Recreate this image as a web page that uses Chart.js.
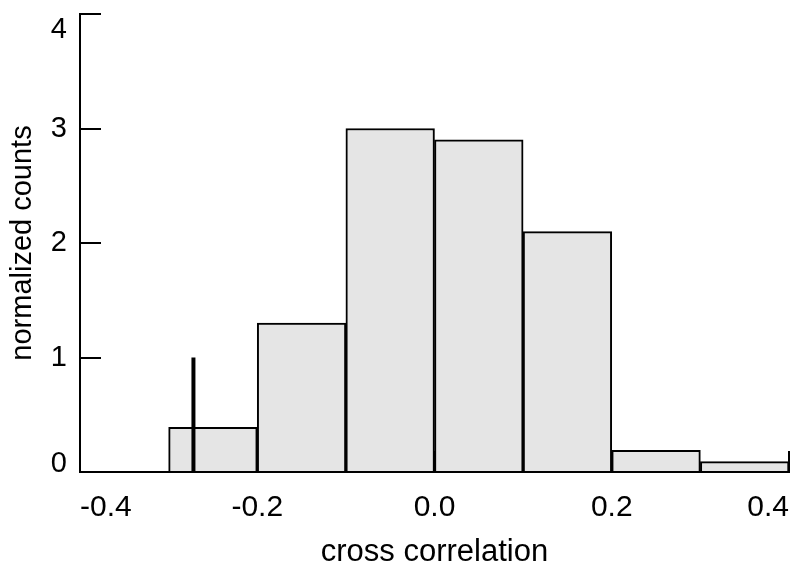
<!DOCTYPE html>
<html>
<head>
<meta charset="utf-8">
<script src="https://cdn.jsdelivr.net/npm/chart.js@4"></script>
<style>
  html, body { margin: 0; padding: 0; background: #ffffff; }
  #wrap { width: 796px; height: 571px; position: relative; }
</style>
</head>
<body>
<div id="wrap"><canvas id="c" width="796" height="571"></canvas></div>
<script>
// ---- data ----
const binCenters = [-0.25, -0.15, -0.05, 0.05, 0.15, 0.25, 0.35];
const normalizedCounts = [0.39, 1.30, 3.00, 2.90, 2.10, 0.19, 0.09];
const markerX = -0.272;
const markerHeight = 1.0;
const xTickValues = [-0.4, -0.2, 0.0, 0.2, 0.4];
const xTickLabels = ['-0.4', '-0.2', '0.0', '0.2', '0.4'];
const yTickValues = [0, 1, 2, 3, 4];
const yTickLabels = ['0', '1', '2', '3', '4'];
const xTitle = 'cross correlation';
const yTitle = 'normalized counts';

const FONT = '"Liberation Sans", Arial, Helvetica, sans-serif';

const histData = binCenters.map((x, i) => ({ x: x, y: normalizedCounts[i] }));
const markerData = [{ x: markerX, y: 0 }, { x: markerX, y: markerHeight }];

new Chart(document.getElementById('c'), {
  type: 'bar',
  data: {
    datasets: [
      {
        type: 'line',
        data: markerData,
        borderColor: '#000000',
        borderWidth: 4,
        borderCapStyle: 'butt',
        pointRadius: 0,
        fill: false,
        order: 0
      },
      {
        type: 'bar',
        data: histData,
        backgroundColor: '#e5e5e5',
        borderColor: '#000000',
        borderWidth: 2,
        barPercentage: 1.0,
        categoryPercentage: 1.0,
        order: 1
      }
    ]
  },
  options: {
    responsive: false,
    animation: false,
    devicePixelRatio: 1,
    layout: { padding: { top: 14, right: 7, left: 0, bottom: 0 } },
    plugins: { legend: { display: false }, tooltip: { enabled: false } },
    scales: {
      x: {
        type: 'linear',
        min: -0.4,
        max: 0.4,
        offset: false,
        z: 1,
        grid: {
          offset: false,
          drawOnChartArea: false,
          drawTicks: true,
          tickLength: -21,
          color: '#000000',
          lineWidth: 2
        },
        border: { display: true, color: '#000000', width: 2 },
        afterBuildTicks: (scale) => { scale.ticks = xTickValues.map(v => ({ value: v })); },
        ticks: {
          align: 'inner',
          padding: 39,
          color: '#000000',
          maxRotation: 0,
          autoSkip: false,
          font: { family: FONT, size: 30 },
          callback: (v, i) => xTickLabels[i]
        },
        title: {
          display: true,
          text: xTitle,
          color: '#000000',
          font: { family: FONT, size: 31 },
          padding: { top: 0, bottom: 0 }
        },
        afterFit: (scale) => {
          scale.height = 99;
          scale.paddingLeft = 0;
          scale.paddingRight = 0;
        }
      },
      y: {
        type: 'linear',
        min: 0,
        max: 4,
        z: 1,
        grid: {
          drawOnChartArea: false,
          drawTicks: true,
          tickLength: -21,
          color: '#000000',
          lineWidth: 2
        },
        border: { display: true, color: '#000000', width: 2 },
        afterBuildTicks: (scale) => { scale.ticks = yTickValues.map(v => ({ value: v })); },
        ticks: {
          padding: 34,
          color: '#000000',
          autoSkip: false,
          font: { family: FONT, size: 29, lineHeight: '16px' },
          callback: (v, i) => {
            const t = yTickLabels[i];
            if (i === 0) return [t, ''];
            if (i === yTickLabels.length - 1) return ['', '', t];
            return t;
          }
        },
        title: {
          display: true,
          text: yTitle,
          color: '#000000',
          font: { family: FONT, size: 29 },
          padding: { top: 6, bottom: 0 }
        },
        afterFit: (scale) => {
          scale.width = 80;
          scale.paddingTop = 0;
          scale.paddingBottom = 0;
        }
      }
    }
  }
});
</script>
</body>
</html>
